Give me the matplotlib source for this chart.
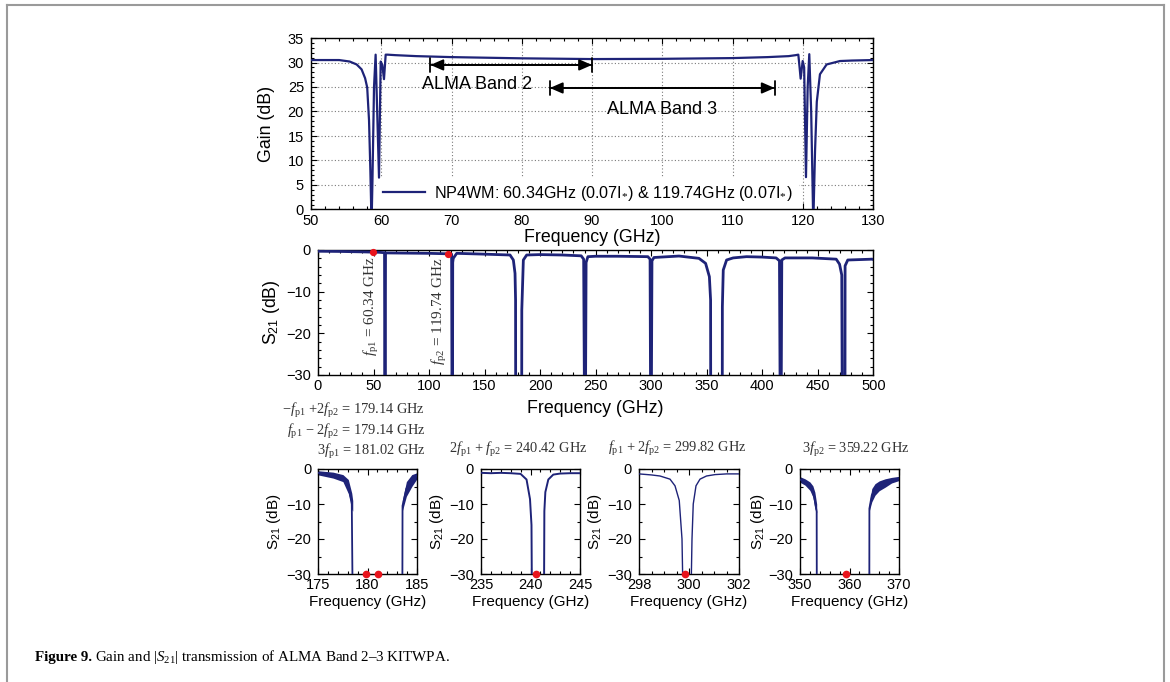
import matplotlib
matplotlib.use("Agg")
import matplotlib.pyplot as plt
from matplotlib.lines import Line2D
from matplotlib.ticker import MultipleLocator

plt.rcParams['font.family'] = ['Liberation Sans', 'DejaVu Sans']
plt.rcParams['mathtext.fontset'] = 'custom'
plt.rcParams['mathtext.rm'] = 'Liberation Serif'
plt.rcParams['mathtext.it'] = 'Liberation Serif:italic'
plt.rcParams['mathtext.bf'] = 'Liberation Serif:bold'
plt.rcParams['mathtext.sf'] = 'Liberation Sans'

# ---------------- data ----------------
# Top: gain (dB) vs frequency (GHz)
gain_freq = [50, 52, 54, 55.5, 56.5, 57.2, 57.7, 58.0, 58.26, 58.45, 58.62, 58.75,
             58.97, 59.2, 59.68, 59.92, 60.15, 60.39, 60.63, 60.9, 62, 65, 70, 80,
             90, 100, 110, 115, 118, 119.0, 119.37, 119.55, 119.7, 119.99, 120.2,
             120.46, 120.7, 120.93, 121.2, 121.5, 121.75, 122.0, 122.45, 123.4,
             125.3, 127, 130]
gain_db = [30.5, 30.5, 30.5, 30.2, 29.6, 28.6, 26.8, 24.9, 18.2, 8.0, -3, 6,
           25, 31.6, 6.5, 30.2, 29.5, 26.6, 31.6, 31.6, 31.5, 31.3, 31.1, 30.85,
           30.7, 30.75, 30.9, 31.1, 31.3, 31.5, 31.6, 29.0, 26.7, 30.3, 29.0,
           6.6, 25.0, 31.7, 20.0, -3, 12, 22, 27.6, 29.6,
           30.3, 30.4, 30.5]
band2 = (67, 90, 29.5)
band3 = (84, 116, 24.8)
legend_label = r"NP4WM: 60.34GHz (0.07I$_{*}$) & 119.74GHz (0.07I$_{*}$)"

# Middle: S21 (dB) vs frequency (GHz), 0-500 GHz
s21_freq = [0, 20, 40, 55, 59.9, 60.2, 60.5, 60.8, 80, 100, 115, 120.3, 120.7, 121.1,
            121.3, 121.8, 124.9, 150, 172.9, 175.9, 177.4, 177.9, 178.0, 183.4, 183.5,
            184.9, 187.9, 200, 220, 237, 239.2, 240.0, 240.8, 241.4, 243, 250, 270,
            297, 299.0, 299.5, 300.1, 300.7, 302.5, 325, 343, 349, 352.4, 353.5,
            353.6, 364.0, 364.1, 364.9, 367.9, 373.8, 385.8, 400, 412.5, 415.5,
            416.2, 417.0, 417.6, 420.5, 445, 466.6, 469.6, 471.6, 472.1, 474.5,
            474.6, 477, 499, 500]
s21_db = [-0.3, -0.35, -0.45, -0.55, -0.65, -40, -40, -0.7, -0.75, -0.8, -0.9, -1.0, -40, -40,
          -3.0, -2.0, -0.8, -1.0, -1.2, -2.4, -5.6, -12, -40, -40, -14.4,
          -2.4, -1.2, -1.1, -1.2, -1.4, -2.2, -40, -40, -3.0, -1.6, -1.5, -1.5,
          -1.6, -2.2, -40, -40, -2.6, -1.8, -1.45, -2.0, -3.2, -6.4, -12,
          -40, -40, -13.6, -4.8, -2.4, -1.9, -1.6, -1.7, -1.9, -2.6,
          -40, -40, -2.4, -1.9, -1.9, -2.2, -3.4, -6.0, -40, -40,
          -3.8, -2.4, -2.2, -2.3]
mid_dot_freq = [49.8, 117.3]
mid_dot_db = [-0.56, -0.88]

# Bottom panels (zoomed S21)
p1_freq = [175, 176, 176.5, 177, 177.5, 178.05, 178.4, 178.5, 183.54, 183.56, 183.95, 184.5, 185]
p1_db = [-1.1, -1.4, -1.7, -2.1, -2.6, -5.0, -9.3, -40, -40, -10.5, -5.6, -3.3, -2.0]
p1_env_left_f = [175, 176.5, 177.5, 178.05, 178.4, 178.5]
p1_env_left_hi = [-0.5, -0.9, -1.6, -3.0, -6.9, -9.0]
p1_env_left_lo = [-1.7, -2.6, -3.6, -7.0, -11.6, -12.0]
p1_env_right_f = [183.54, 183.95, 184.5, 185]
p1_env_right_hi = [-9.0, -3.6, -1.6, -1.1]
p1_env_right_lo = [-12.0, -7.8, -5.0, -2.9]
p1_dot_freq = [179.85, 181.1]

p2_freq = [235, 236, 237, 238, 239, 239.6, 239.95, 240.1, 240.15, 241.36, 241.4, 241.5, 241.8, 242.3, 243, 244, 245]
p2_db = [-1.1, -1.2, -1.1, -1.2, -1.4, -3.0, -8.6, -16, -40, -40, -12, -6.6, -3.0, -1.6, -1.3, -1.2, -1.2]
p2_dot_freq = [240.6]

p3_freq = [298, 298.5, 298.84, 299.24, 299.44, 299.61, 299.72, 299.77, 300.07, 300.12, 300.17, 300.28, 300.44, 300.7, 301.04, 301.5, 302]
p3_db = [-1.4, -1.7, -2.0, -2.9, -4.8, -9.0, -20, -40, -40, -20, -10, -4.8, -2.9, -2.0, -1.6, -1.4, -1.4]
p3_dot_freq = [299.84]

p4_freq = [350, 351, 352, 352.6, 353.0, 353.37, 353.4, 364.0, 364.02, 364.5, 365.15, 366, 367.2, 368.5, 370]
p4_db = [-3.0, -3.7, -4.9, -6.4, -9.0, -12.2, -40, -40, -11.3, -7.5, -5.8, -4.8, -4.0, -3.2, -2.7]
p4_env_left_f = [350, 351, 352, 352.6, 353.0, 353.37]
p4_env_left_hi = [-2.2, -2.8, -3.7, -4.8, -6.6, -10.0]
p4_env_left_lo = [-3.8, -4.6, -6.1, -8.0, -11.3, -12.5]
p4_env_right_f = [364.0, 364.5, 365.15, 366, 367.2, 368.5, 370]
p4_env_right_hi = [-10.0, -5.6, -4.2, -3.4, -2.8, -2.4, -2.1]
p4_env_right_lo = [-12.0, -9.4, -7.5, -6.2, -5.2, -4.0, -3.3]
p4_dot_freq = [359.3]

bottom_xlims = [(175, 185), (235, 245), (298, 302), (350, 370)]
bottom_xticks = [[175, 180, 185], [235, 240, 245], [298, 300, 302], [350, 360, 370]]
bottom_minor = [1, 1, 0.5, 2]

bottom_titles = [
    [r"$-f_{\mathrm{p1}}$ +2$f_{\mathrm{p2}}$ = 179.14 GHz",
     r"$f_{\mathrm{p1}}$ − 2$f_{\mathrm{p2}}$ = 179.14 GHz",
     r"3$f_{\mathrm{p1}}$ = 181.02 GHz"],
    [r"2$f_{\mathrm{p1}}$ + $f_{\mathrm{p2}}$ = 240.42 GHz"],
    [r"$f_{\mathrm{p1}}$ + 2$f_{\mathrm{p2}}$ = 299.82 GHz"],
    [r"3$f_{\mathrm{p2}}$ = 359.22 GHz"],
]

# ---------------- figure ----------------
W, H = 1170, 682
fig = plt.figure(figsize=(W / 100, H / 100), dpi=100)
NAVY = '#1e2378'


def ax_px(l, r, t, b):
    return fig.add_axes([l / W, 1 - b / H, (r - l) / W, (b - t) / H])


def style_ticks(ax, size):
    ax.tick_params(which='both', direction='in', top=True, right=True,
                   labelsize=size, width=0.8)
    ax.tick_params(which='major', length=4.5)
    ax.tick_params(which='minor', length=2.5)
    ax.tick_params(axis='y', pad=5)
    ax.tick_params(axis='x', pad=3)
    for s in ax.spines.values():
        s.set_linewidth(1.0)


# ---- top panel ----
ax = ax_px(311, 873, 38, 209.5)
ax.plot(gain_freq, gain_db, color=NAVY, lw=1.6, zorder=3, label=legend_label)
ax.set_xlim(50, 130)
ax.set_ylim(0, 35)
ax.xaxis.set_major_locator(MultipleLocator(10))
ax.xaxis.set_minor_locator(MultipleLocator(2))
ax.yaxis.set_major_locator(MultipleLocator(5))
ax.yaxis.set_minor_locator(MultipleLocator(1))
ax.set_axisbelow(True)
ax.grid(True, which='major', color='#7a7a7a', linestyle=(0, (1, 2)), lw=0.8)
style_ticks(ax, 10.5)
ax.set_xlabel('Frequency (GHz)', fontsize=12.8)
ax.set_ylabel('Gain (dB)', fontsize=12.8)
ax.xaxis.set_label_coords(0.5, -0.165)
ax.xaxis.label.set_va('center')
ax.yaxis.set_label_coords(-0.079, 0.5)
ax.yaxis.label.set_va('center')
for (f0, f1, yv) in (band2, band3):
    ax.annotate('', xy=(f1, yv), xytext=(f0, yv),
                arrowprops=dict(arrowstyle='<|-|>,head_length=0.55,head_width=0.24',
                                color='k', lw=1.3, shrinkA=0, shrinkB=0,
                                mutation_scale=14), zorder=4)
    ax.annotate('', xy=(f1, yv), xytext=(f0, yv),
                arrowprops=dict(arrowstyle='|-|,widthA=0.35,widthB=0.35',
                                color='k', lw=1.3, shrinkA=0, shrinkB=0,
                                mutation_scale=14), zorder=4)
ax.text(73.7, 25.6, 'ALMA Band 2', fontsize=13, ha='center', va='center', zorder=4)
ax.text(100.0, 20.5, 'ALMA Band 3', fontsize=13, ha='center', va='center', zorder=4)
leg = ax.legend(loc='center left', bbox_to_anchor=(0.116, 0.096), frameon=True,
                facecolor='white', edgecolor='none', framealpha=1, fancybox=False,
                borderpad=0.4, borderaxespad=0, handlelength=2.65,
                handletextpad=0.55, fontsize=11.6)
leg.set_zorder(2)

# ---- middle panel ----
ax = ax_px(318, 873.3, 250, 375)
ax.plot(s21_freq, s21_db, color=NAVY, lw=2.0, zorder=3)
ax.plot(mid_dot_freq, mid_dot_db, 'o', color='#e8141c', ms=4.2, zorder=5, clip_on=False)
ax.set_xlim(0, 500)
ax.set_ylim(-30, 0)
ax.xaxis.set_major_locator(MultipleLocator(50))
ax.xaxis.set_minor_locator(MultipleLocator(10))
ax.yaxis.set_major_locator(MultipleLocator(10))
ax.yaxis.set_minor_locator(MultipleLocator(2))
style_ticks(ax, 10.5)
ax.set_xlabel('Frequency (GHz)', fontsize=12.8)
ax.set_ylabel(r'S$_{\mathsf{21}}$ (dB)', fontsize=12.8)
ax.xaxis.set_label_coords(0.5, -0.272)
ax.xaxis.label.set_va('center')
ax.yaxis.set_label_coords(-0.0846, 0.5)
ax.yaxis.label.set_va('center')
ax.text(48.6, -13.4, r"$f_{\mathrm{p1}}$ = 60.34 GHz", rotation=90, fontfamily='Liberation Serif',
        ha='center', va='center', fontsize=11, color='#333333')
ax.text(109.3, -14.8, r"$f_{\mathrm{p2}}$ = 119.74 GHz", rotation=90, fontfamily='Liberation Serif',
        ha='center', va='center', fontsize=11, color='#333333')

# ---- bottom panels ----
bottom_px = [(318.3, 416.7), (481, 580), (639, 739), (800, 899)]
ylab_x = [-0.45, -0.447, -0.44, -0.424]
series = [(p1_freq, p1_db, p1_dot_freq, 1.3),
          (p2_freq, p2_db, p2_dot_freq, 1.4),
          (p3_freq, p3_db, p3_dot_freq, 1.0),
          (p4_freq, p4_db, p4_dot_freq, 1.3)]
envs = [[(p1_env_left_f, p1_env_left_hi, p1_env_left_lo),
         (p1_env_right_f, p1_env_right_hi, p1_env_right_lo)],
        [], [],
        [(p4_env_left_f, p4_env_left_hi, p4_env_left_lo),
         (p4_env_right_f, p4_env_right_hi, p4_env_right_lo)]]
for i, (l, r) in enumerate(bottom_px):
    ax = ax_px(l, r, 469, 574)
    fx, fy, dots, lw = series[i]
    for ef, eh, el in envs[i]:
        ax.fill_between(ef, eh, el, color=NAVY, lw=0, zorder=2)
    ax.plot(fx, fy, color=NAVY, lw=lw, zorder=3)
    ax.plot(dots, [-30] * len(dots), 'o', color='#e8141c', ms=4.5, zorder=5, clip_on=False)
    ax.set_xlim(*bottom_xlims[i])
    ax.set_ylim(-30, 0)
    ax.set_xticks(bottom_xticks[i])
    ax.xaxis.set_minor_locator(MultipleLocator(bottom_minor[i]))
    ax.yaxis.set_major_locator(MultipleLocator(10))
    ax.yaxis.set_minor_locator(MultipleLocator(5))
    style_ticks(ax, 10.5)
    ax.set_xlabel('Frequency (GHz)', fontsize=11)
    ax.set_ylabel(r'S$_{\mathsf{21}}$ (dB)', fontsize=11)
    ax.xaxis.set_label_coords(0.5, -0.262)
    ax.xaxis.label.set_va('center')
    ax.yaxis.set_label_coords(ylab_x[i], 0.5)
    ax.yaxis.label.set_va('center')

# annotations above bottom panels (pixel positions)
title_pos = [[(425, 410, 'right'), (425, 431.7, 'right'), (426, 451.7, 'right')],
             [(518.3, 449.3, 'center')],
             [(677.5, 448.3, 'center')],
             [(855.7, 449.3, 'center')]]
for texts, poss in zip(bottom_titles, title_pos):
    for t, (x, y, ha) in zip(texts, poss):
        fig.text(x / W, 1 - y / H, t, ha=ha, va='center', fontsize=10.4,
                 fontfamily='Liberation Serif', color='#333333')

# caption
cap1 = fig.text(35 / W, 1 - 661.5 / H, 'Figure 9.', fontfamily='Liberation Serif',
                fontweight='bold', fontsize=10.8, va='baseline', ha='left')
renderer = fig.canvas.get_renderer()
bb = cap1.get_window_extent(renderer=renderer)
fig.text((bb.x1 + 3) / W, 1 - 661.5 / H,
         r'Gain and $|S_{\mathrm{21}}|$ transmission of ALMA Band 2–3 KITWPA.',
         fontfamily='Liberation Serif', fontsize=10.8, va='baseline', ha='left')

# page frame
fc = '#9a9a9a'
fig.add_artist(Line2D([7 / W, 7 / W], [0, 1 - 5 / H], color=fc, lw=1.5, transform=fig.transFigure))
fig.add_artist(Line2D([1164 / W, 1164 / W], [0, 1 - 5 / H], color=fc, lw=1.5, transform=fig.transFigure))
fig.add_artist(Line2D([7 / W, 1164 / W], [1 - 5 / H, 1 - 5 / H], color=fc, lw=1.5, transform=fig.transFigure))

fig.savefig('out.png', dpi=100)
